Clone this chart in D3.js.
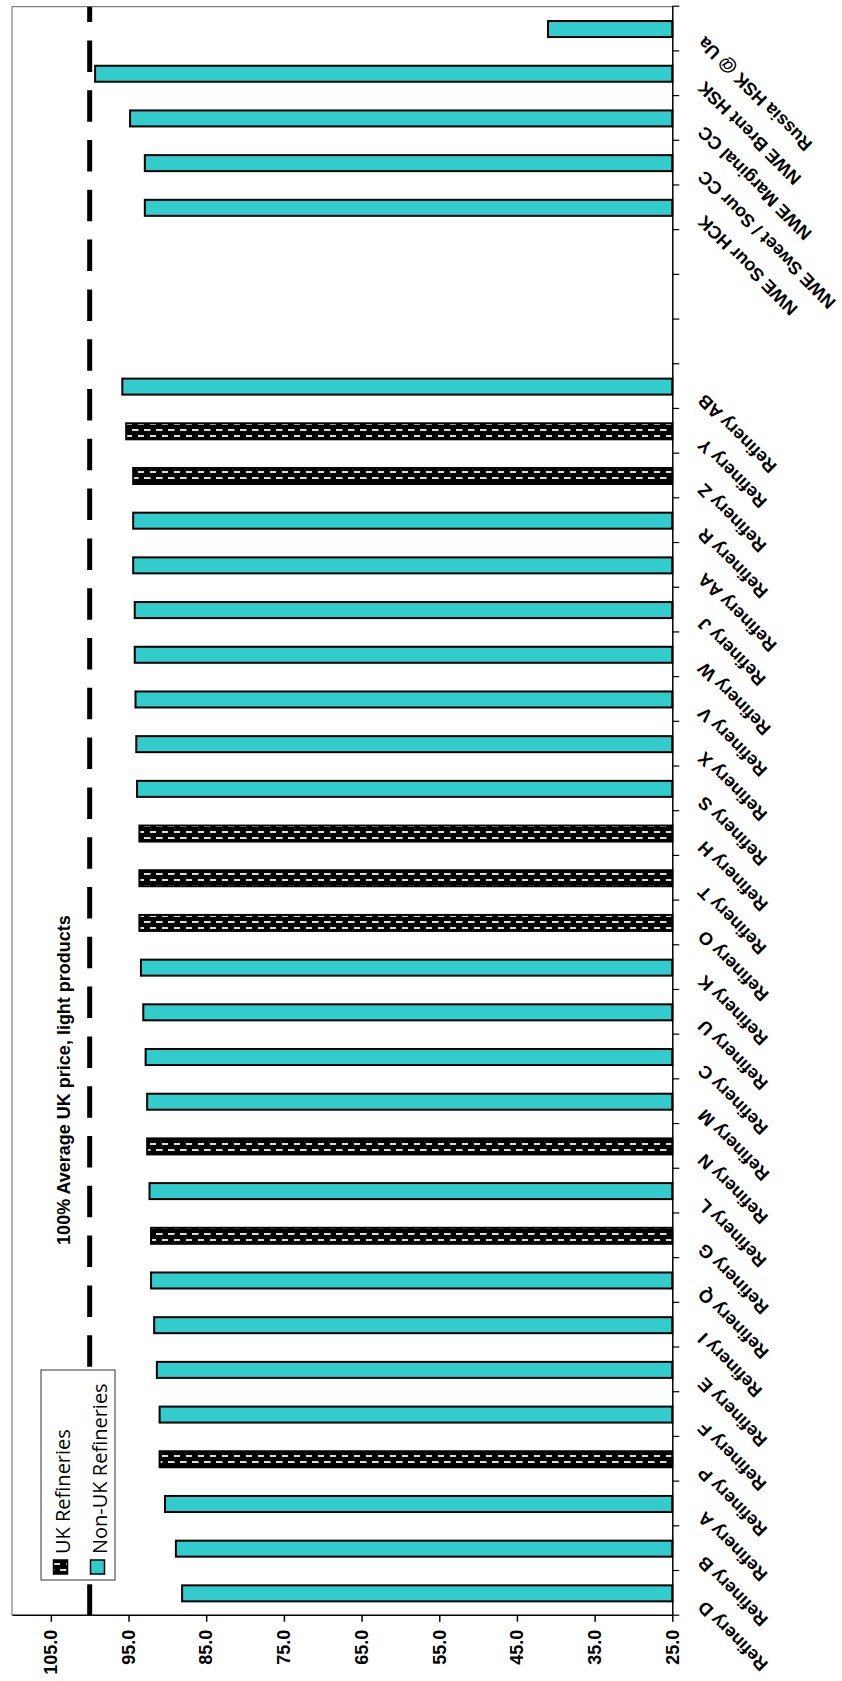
<!DOCTYPE html>
<html><head><meta charset="utf-8">
<script src="https://cdn.jsdelivr.net/npm/d3@7"></script>
<style>html,body{margin:0;padding:0;background:#fff;} svg{display:block}</style>
</head><body>
<svg id="c" width="842" height="1681"></svg>
<script>
// ---- data ----
const categories = ["Refinery D","Refinery B","Refinery A","Refinery P","Refinery F","Refinery E","Refinery I","Refinery Q","Refinery G","Refinery L","Refinery N","Refinery M","Refinery C","Refinery U","Refinery K","Refinery O","Refinery T","Refinery H","Refinery S","Refinery X","Refinery V","Refinery W","Refinery J","Refinery AA","Refinery R","Refinery Z","Refinery Y","Refinery AB","","","","NWE Sour HCK","NWE Sweet / Sour CC","NWE Marginal CC","NWE Brent HSK","Russia HSK @ Ua"];
const ukValues =    [null,null,null,91.0,null,null,null,null,92.1,null,92.6,null,null,null,null,93.6,93.6,93.6,null,null,null,null,null,null,null,94.4,95.3,null,null,null,null,null,null,null,null,null];
const nonUkValues = [88.1,88.9,90.3,null,91.0,91.35,91.7,92.1,null,92.3,null,92.6,92.8,93.1,93.4,null,null,null,93.9,94.0,94.1,94.2,94.2,94.4,94.4,null,null,95.8,null,null,null,92.9,92.9,94.8,99.3,41.0];
const valueTicks = [25,35,45,55,65,75,85,95,105];
const seriesNames = ["UK Refineries","Non-UK Refineries"];
const referenceValue = 100;
const referenceLabel = "100% Average UK price, light products";

// ---- layout (chart drawn in its own frame, then turned a quarter turn) ----
const svg = d3.select("#c");
const defs = svg.append("defs");
const pat = defs.append("pattern").attr("id","ukPat").attr("patternUnits","userSpaceOnUse")
  .attr("width",12).attr("height",12);
pat.append("rect").attr("width",12).attr("height",12).attr("fill","#000");
pat.append("rect").attr("x",2).attr("y",0).attr("width",2).attr("height",6.5).attr("fill","#dcdcdc");
pat.append("rect").attr("x",8).attr("y",6).attr("width",2).attr("height",6.5).attr("fill","#dcdcdc");

const g = svg.append("g").attr("transform","translate(0,1681) rotate(-90)");
const plot = {left:65.3, right:1674.3, top:12, bottom:672.3};
const boldFont = "'Liberation Sans', Arial, sans-serif";

const x = d3.scaleBand().domain(d3.range(categories.length)).range([plot.left, plot.right]).padding(0);
const xi = d3.scaleLinear().domain([0, categories.length]).range([plot.left, plot.right]);
const y = d3.scaleLinear().domain([25,110]).range([plot.bottom, plot.top]);
const bw = x.bandwidth();
const barW = 16;

// plot area border (gray)
g.append("line").attr("x1",plot.left).attr("x2",plot.right).attr("y1",plot.top).attr("y2",plot.top)
  .attr("stroke","#808080").attr("stroke-width",1.2);
g.append("line").attr("x1",plot.right).attr("x2",plot.right).attr("y1",plot.top).attr("y2",plot.bottom)
  .attr("stroke","#808080").attr("stroke-width",1.2);

// bars
function drawSeries(vals, fill, cls){
  const data = vals.map((v,i)=>({v,i})).filter(d=>d.v!=null);
  g.selectAll("rect."+cls).data(data).enter().append("rect").attr("class",cls)
    .attr("x",d=>x(d.i)+(bw-barW)/2).attr("width",barW)
    .attr("y",d=>y(d.v)).attr("height",d=>y(25)-y(d.v))
    .attr("fill",fill).attr("stroke","#000").attr("stroke-width",2);
}
drawSeries(nonUkValues, "#33CCCC", "nonuk");
drawSeries(ukValues, "url(#ukPat)", "uk");

// value axis
const yAxis = d3.axisLeft(y).tickValues(valueTicks).tickFormat(d3.format(".1f")).tickSize(6).tickSizeOuter(0).tickPadding(8);
const ya = g.append("g").attr("transform",`translate(${plot.left},0)`).call(yAxis);
ya.select(".domain").attr("stroke","#000").attr("stroke-width",1.5);
ya.selectAll(".tick line").attr("stroke","#000").attr("stroke-width",1.5);
ya.selectAll("text").attr("font-family",boldFont).attr("font-weight","bold").attr("font-size",18).attr("fill","#000");

// category axis
const xAxis = d3.axisBottom(xi).tickValues(d3.range(categories.length+1)).tickFormat("").tickSize(7).tickSizeOuter(0);
const xa = g.append("g").attr("transform",`translate(0,${plot.bottom})`).call(xAxis);
xa.select(".domain").attr("stroke","#000").attr("stroke-width",1.5);
xa.selectAll(".tick line").attr("stroke","#000").attr("stroke-width",1.2);
g.append("g").selectAll("text").data(categories.map((c,i)=>({c,i})).filter(d=>d.c))
  .enter().append("text")
  .attr("transform",d=>`translate(${x(d.i)+bw/2-6.5},${plot.bottom+33}) rotate(-45)`)
  .attr("text-anchor","end").attr("font-family",boldFont).attr("font-weight","bold")
  .attr("font-size",18).attr("fill","#000").text(d=>d.c);

// reference line
g.append("line").attr("x1",plot.left).attr("x2",plot.right)
  .attr("y1",y(referenceValue)).attr("y2",y(referenceValue))
  .attr("stroke","#000").attr("stroke-width",5).attr("stroke-dasharray","31.5,18.3");
g.append("text").attr("x",601).attr("y",y(referenceValue)-20).attr("text-anchor","middle")
  .attr("font-family",boldFont).attr("font-weight","bold").attr("font-size",18).attr("fill","#000")
  .text(referenceLabel);

// legend
const lg = g.append("g");
lg.append("rect").attr("x",101).attr("y",41).attr("width",210).attr("height",74)
  .attr("fill","#fff").attr("stroke","#333").attr("stroke-width",1);
const legFills = ["url(#ukPat)","#33CCCC"];
const legRows = [60.5, 97.5];
seriesNames.forEach((s,k)=>{
  lg.append("rect").attr("x",107).attr("y",legRows[k]-7).attr("width",14).attr("height",14)
    .attr("fill",legFills[k]).attr("stroke","#000").attr("stroke-width",1.5);
  lg.append("text").attr("x",127).attr("y",legRows[k]+9).attr("font-family","'Open Sans', sans-serif")
    .attr("font-size",20).attr("fill","#000").text(s);
});
</script>
</body></html>
